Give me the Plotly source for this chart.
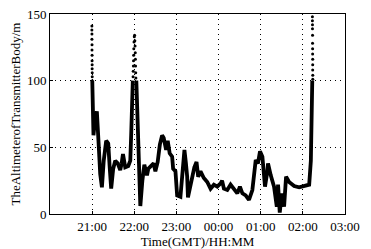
import plotly.graph_objects as go
from datetime import datetime, timedelta

# minutes after 20:00 GMT and altimeter value (m) of the transmitter body
line_minutes = [60.2, 60.4, 61.9, 64.0, 66.7, 69.5, 71.5, 73.9, 76.5, 80.0, 82.9, 85.0, 87.1,
                90.0, 92.9, 96.4, 100.0, 102.0, 103.9, 105.5, 107.1, 111.4, 114.3, 115.6, 116.4, 117.9,
                None,
                122.9, 125.7, 128.6, 131.5, 134.3, 138.1, 140.0, 142.9, 147.6, 150.0, 153.3,
                156.4, 159.6, 161.9, 165.3, 167.6, 170.4, 173.9, 175.3, 178.6, 181.0, 185.7,
                188.5, 191.4, 193.5, 195.3, 196.4, 199.5, 202.4, 205.5, 208.6, 211.0, 214.3,
                219.0, 223.9, 228.6, 233.3, 238.1, 242.9, 245.0, 247.6, 252.4, 257.1, 261.9,
                266.7, 270.4, 273.9, 278.6, 283.3, 288.1, 292.9, 296.1, 299.0, 302.4, 306.1,
                309.5, 310.4, 314.3, 319.0, 322.9, 324.7, 327.1, 330.0, 333.3, 336.1, 340.4,
                347.6, 354.7, 361.9, 369.0, 371.4, 372.6, 373.4]
line_alt = [100, 78, 59, 70, 77, 50, 30, 20, 40, 55, 53, 35, 19,
            34, 40, 38, 33, 38, 45, 40, 35, 36, 40, 60, 80, 100,
            None,
            100, 50, 6, 25, 37, 29, 34, 35.5, 38, 32, 39,
            52, 59, 57, 48, 55, 45.5, 43, 34, 32, 14, 13,
            30, 48, 38, 28, 12.5, 20, 28, 35, 39, 28, 32,
            27, 24, 19, 22, 20.5, 23, 25, 19, 18, 22, 19,
            15.5, 20.5, 15.5, 14, 10.5, 18, 40.5, 38, 47, 43, 20.5,
            32, 38, 29, 20.5, 5.5, 22, 1, 15.5, 5.5, 28, 24,
            21, 20, 21, 22, 40, 70, 100]

# sparse samples during fast ascent / descent, drawn as dots
dot_minutes = [59.6, 59.6, 59.7, 59.7, 59.8, 59.8, 59.9, 59.9, 60.0, 60.0, 60.1, 60.1, 60.2,
               118.3, 118.5, 118.7, 118.9, 119.1, 119.3, 119.6, 120.0,
               120.4, 120.8, 121.1, 121.4, 121.6, 121.8, 122.0, 122.3,
               373.6, 373.6, 373.7, 373.7, 373.8, 373.8, 373.9, 373.9, 374.0, 374.0,
               374.0, 374.1, 374.1]
dot_alt = [141, 138, 135, 131, 127, 123, 119, 115, 112, 109, 106, 103, 100,
           103, 107, 111, 115, 119, 124, 129, 133,
           134, 130, 126, 121, 116, 111, 106, 102,
           148, 145, 142, 139, 134, 128, 124, 120, 116, 112, 108, 104, 101]

tick_minutes = [60, 120, 180, 240, 300, 360, 420]
tick_labels = ["21:00", "22:00", "23:00", "00:00", "01:00", "02:00", "03:00"]
y_ticks = [0, 50, 100, 150]

base = datetime(2000, 1, 1, 20, 0, 0)


def to_time(mins):
    return [None if m is None else base + timedelta(minutes=m) for m in mins]


fig = go.Figure()
fig.add_trace(go.Scatter(x=to_time(line_minutes), y=line_alt, mode="lines",
                         line=dict(color="black", width=3.8), connectgaps=False,
                         showlegend=False, cliponaxis=False))
fig.add_trace(go.Scatter(x=to_time(dot_minutes), y=dot_alt, mode="markers",
                         marker=dict(color="black", size=3), showlegend=False,
                         cliponaxis=False))

font = dict(family="Liberation Serif", size=13, color="black")
fig.update_layout(
    width=363, height=241,
    margin=dict(l=42, r=26, t=6, b=35, autoexpand=False),
    paper_bgcolor="white", plot_bgcolor="white",
    font=font,
    xaxis=dict(
        type="date", automargin=False, ticklabeloverflow="allow",
        range=[base, base + timedelta(hours=7)],
        tickvals=to_time(tick_minutes), ticktext=tick_labels,
        showgrid=True, gridcolor="black", griddash="1px,4px", gridwidth=1,
        showline=True, linecolor="black", linewidth=1, mirror=True,
        ticks="inside", ticklen=3, tickcolor="black",
        title=dict(text="Time(GMT)/HH:MM", font=font, standoff=2),
        zeroline=False, tickfont=font,
    ),
    yaxis=dict(
        range=[0, 150], tickvals=y_ticks, automargin=False, ticklabeloverflow="allow",
        showgrid=True, gridcolor="black", griddash="1px,4px", gridwidth=1,
        showline=True, linecolor="black", linewidth=1, mirror=True,
        ticks="inside", ticklen=3, tickcolor="black",
        title=dict(text="TheAltimeterofTransmitterBody/m", font=font, standoff=4),
        zeroline=False, tickfont=font,
    ),
)

fig.write_html("out.html")
